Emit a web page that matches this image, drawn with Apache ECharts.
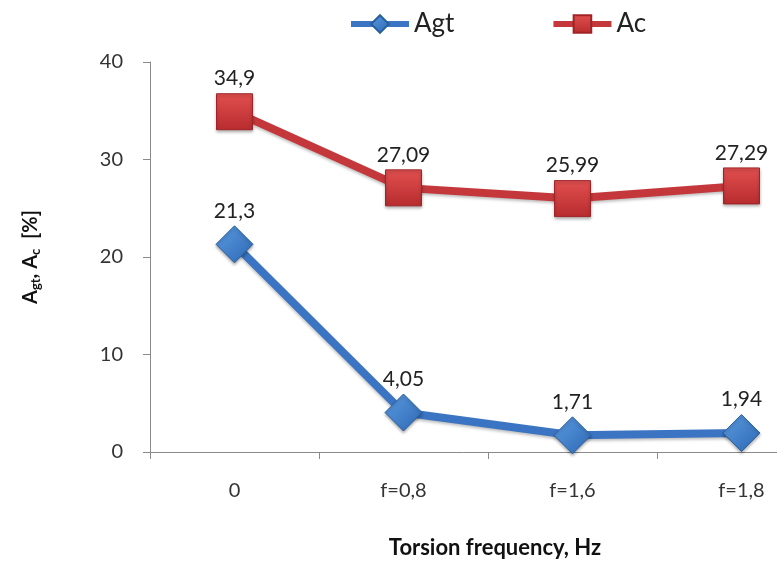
<!DOCTYPE html>
<html>
<head>
<meta charset="utf-8">
<script src="https://cdn.jsdelivr.net/npm/echarts@6/dist/echarts.min.js"></script>
<style>
  html, body { margin: 0; padding: 0; background: #ffffff; }
  #chart { width: 777px; height: 564px; }
</style>
</head>
<body>
<div id="chart"></div>
<script>
// Torsion frequency categories and the two elongation series (percent)
const categories = ['0', 'f=0,8', 'f=1,6', 'f=1,8'];
const agtValues = [21.3, 4.05, 1.71, 1.94];
const acValues = [34.9, 27.09, 25.99, 27.29];
const yTicks = { min: 0, max: 40, interval: 10 };

const FONT = 'Lato, "Open Sans", sans-serif';
const commaLabel = p => String(p.value).replace('.', ',');

const chart = echarts.init(document.getElementById('chart'), null, { renderer: 'canvas' });

chart.setOption({
  backgroundColor: '#ffffff',
  animation: false,
  textStyle: { fontFamily: FONT },
  title: {
    text: 'Torsion frequency, Hz',
    left: 490,
    top: 532,
    textAlign: 'center',
    textStyle: { fontFamily: FONT, fontSize: 22, fontWeight: 'bold', color: '#111' }
  },
  legend: {
    left: 343,
    top: 6,
    itemWidth: 58,
    itemHeight: 22,
    itemGap: 96,
    lineStyle: { width: 6 },
    textStyle: { fontFamily: FONT, fontSize: 26, color: '#222' },
    data: ['Agt', 'Ac']
  },
  // plot area runs past the right edge of the canvas, so the last band is cut off
  grid: { left: 150, right: -49, top: 62, bottom: 112, outerBoundsMode: 'none', containLabel: false },
  xAxis: {
    type: 'category',
    data: categories,
    boundaryGap: true,
    axisLine: { lineStyle: { color: '#8a8a8a', width: 1 } },
    axisTick: { show: true, length: 7, lineStyle: { color: '#8a8a8a' } },
    axisLabel: { margin: 29, fontSize: 20, color: '#333', fontFamily: FONT },
    splitLine: { show: false }
  },
  yAxis: {
    type: 'value',
    min: yTicks.min,
    max: yTicks.max,
    interval: yTicks.interval,
    name: '{a|A}{s|gt}{a|, A}{s|c}{a|  [%]}',
    nameLocation: 'middle',
    nameGap: 108,
    nameRotate: 90,
    nameTextStyle: {
      rich: {
        a: { fontFamily: FONT, fontSize: 20, fontWeight: 'bold', color: '#111' },
        s: { fontFamily: FONT, fontSize: 13, fontWeight: 'bold', color: '#111', verticalAlign: 'bottom', padding: [9, 0, 0, 0] }
      }
    },
    axisLine: { show: true, lineStyle: { color: '#8a8a8a', width: 1 } },
    axisTick: { show: true, length: 7, lineStyle: { color: '#8a8a8a' } },
    axisLabel: { margin: 27, fontSize: 20, color: '#333', fontFamily: FONT },
    splitLine: { show: false }
  },
  series: [
    {
      name: 'Agt',
      type: 'line',
      data: agtValues,
      symbol: 'diamond',
      symbolSize: 37,
      lineStyle: { color: '#3a74c2', width: 8, shadowColor: 'rgba(0,0,0,0.25)', shadowBlur: 3, shadowOffsetY: 2 },
      itemStyle: {
        color: new echarts.graphic.LinearGradient(0, 0, 1, 1, [
          { offset: 0, color: '#5b9be0' },
          { offset: 1, color: '#2d68b4' }
        ]),
        borderColor: '#2a5f9e',
        borderWidth: 1,
        shadowColor: 'rgba(0,0,0,0.3)', shadowBlur: 3, shadowOffsetY: 2
      },
      label: {
        show: true, position: 'top', distance: 4,
        formatter: commaLabel,
        fontFamily: FONT, fontSize: 21, color: '#222'
      },
      z: 3
    },
    {
      name: 'Ac',
      type: 'line',
      data: acValues,
      symbol: 'rect',
      symbolSize: 36,
      lineStyle: { color: '#c4383b', width: 8, shadowColor: 'rgba(0,0,0,0.25)', shadowBlur: 3, shadowOffsetY: 2 },
      itemStyle: {
        color: new echarts.graphic.LinearGradient(0, 0, 0, 1, [
          { offset: 0, color: '#e25050' },
          { offset: 1, color: '#b72b2e' }
        ]),
        borderColor: '#9e2427',
        borderWidth: 1,
        shadowColor: 'rgba(0,0,0,0.3)', shadowBlur: 3, shadowOffsetY: 2
      },
      label: {
        show: true, position: 'top', distance: 4,
        formatter: commaLabel,
        fontFamily: FONT, fontSize: 21, color: '#222'
      },
      z: 2
    }
  ]
});
</script>
</body>
</html>
